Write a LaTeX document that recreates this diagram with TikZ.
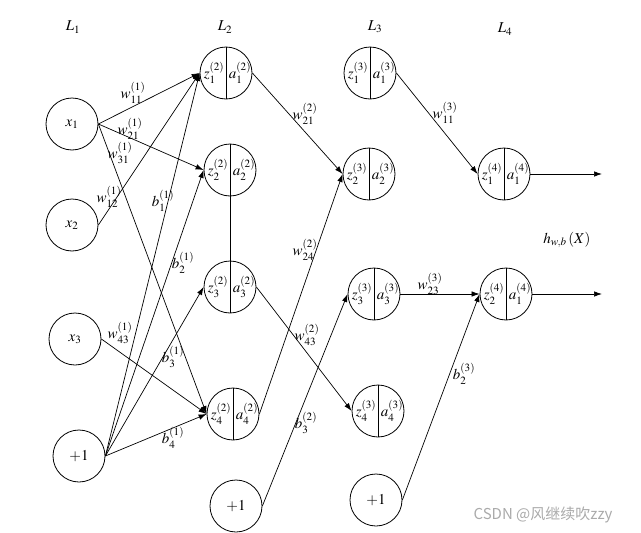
\documentclass[tikz,border=0pt]{standalone}
\usepackage{mathptmx}
\usepackage{fontspec}
\setmainfont{Liberation Serif}
\newfontfamily\cjkfont{Noto Sans CJK SC}
\usepackage{tikz}
\usetikzlibrary{arrows.meta,positioning}
\definecolor{markgray}{RGB}{170,170,170}

\begin{document}
\begin{tikzpicture}[
    x=1pt, y=-1pt,
    unit/.style={draw, circle, minimum size=52pt, inner sep=0pt, line width=0.8pt},
    inlab/.style={font=\fontsize{15}{17}\selectfont, inner sep=0pt},
    lbl/.style={font=\fontsize{15}{17}\selectfont, inner sep=0pt},
    conn/.style={line width=0.7pt, -{Latex[length=8pt,width=5.5pt]}},
]
    \useasboundingbox (0,0) rectangle (641,533);
    % Layer titles
    \node[lbl] (L1) at (73,27) {$L_1$};
    \node[lbl] (L2) at (225,27) {$L_2$};
    \node[lbl] (L3) at (375,27) {$L_3$};
    \node[lbl] (L4) at (505,29) {$L_4$};
    % Inputs and bias units
    \node[unit, inlab] (x1) at (72,124) {$x_1$};
    \node[unit, inlab] (x2) at (72,225) {$x_2$};
    \node[unit, inlab] (x3) at (75,339) {$x_3$};
    \node[unit, inlab] (b1) at (79,456) {$+1$};
    \node[unit, inlab] (b2) at (236,506) {$+1$};
    \node[unit, inlab] (b3) at (376,500) {$+1$};
    % Split units: z | a
    \foreach \n/\x/\y/\zi/\ai/\l in {z12/226/73/1/1/2, z22/230/170/2/2/2,
        z32/230/287/3/3/2, z42/233/414/4/4/2, z13/370/73/1/1/3,
        z23/369/174/2/2/3, z33/374/294/3/3/3, z43/378/411/4/4/3,
        z14/504/174/1/1/4, z24/506/294/2/1/4} {
        \node[unit] (\n) at (\x,\y) {};
        \draw[line width=0.8pt] (\n.north) -- (\n.south);
        \node[inlab] (\n-z) at ([xshift=-12pt]\n.center) {$z_{\zi}^{(\l)}$};
        \node[inlab] (\n-a) at ([xshift=14pt]\n.center) {$a_{\ai}^{(\l)}$};
    }
    \draw[line width=0.8pt] (z22.south) -- (z32.north);
    % Outputs
    \coordinate (o1) at (602,174);
    \coordinate (o2) at (602,294);
    % Connections
    \foreach \s/\t in {x1/z12, x1/z22, x1/z42, x2/z12, x3/z42, b1/z12, b1/z22,
        b1/z32, b1/z42, z12/z23, z42/z23, z32/z43, b2/z33, z13/z14, z33/z24, b3/z24}
        \draw[conn] (\s.east) -- (\t.west);
    \draw[conn] (z14.east) -- (o1);
    \draw[conn] (z24.east) -- (o2);
    % Weights
    \node[lbl] (w111) at (133,93) {$w_{11}^{(1)}$};
    \node[lbl] (w211) at (130,129) {$w_{21}^{(1)}$};
    \node[lbl] (w311) at (120,153) {$w_{31}^{(1)}$};
    \node[lbl] (w121) at (109,197) {$w_{12}^{(1)}$};
    \node[lbl] (w431) at (120,333) {$w_{43}^{(1)}$};
    \node[lbl] (b11) at (163,201) {$b_1^{(1)}$};
    \node[lbl] (b21) at (183,263) {$b_2^{(1)}$};
    \node[lbl] (b31) at (173,357) {$b_3^{(1)}$};
    \node[lbl] (b41) at (173,438) {$b_4^{(1)}$};
    \node[lbl] (w212) at (305,114) {$w_{21}^{(2)}$};
    \node[lbl] (w242) at (305,250) {$w_{24}^{(2)}$};
    \node[lbl] (w432) at (307,335) {$w_{43}^{(2)}$};
    \node[lbl] (b32) at (306,423) {$b_3^{(2)}$};
    \node[lbl] (w113) at (445,113) {$w_{11}^{(3)}$};
    \node[lbl] (w233) at (430,284) {$w_{23}^{(3)}$};
    \node[lbl] (b23) at (464,374) {$b_2^{(3)}$};
    \node[lbl] (hx) at (567,240) {$h_{w,b}\left(X\right)$};
    % Watermark
    \node[font=\cjkfont\fontsize{15}{17}\selectfont, text=markgray, inner sep=0pt]
        (mark) at (543,515) {CSDN @风继续吹zzy};
\end{tikzpicture}
\end{document}
